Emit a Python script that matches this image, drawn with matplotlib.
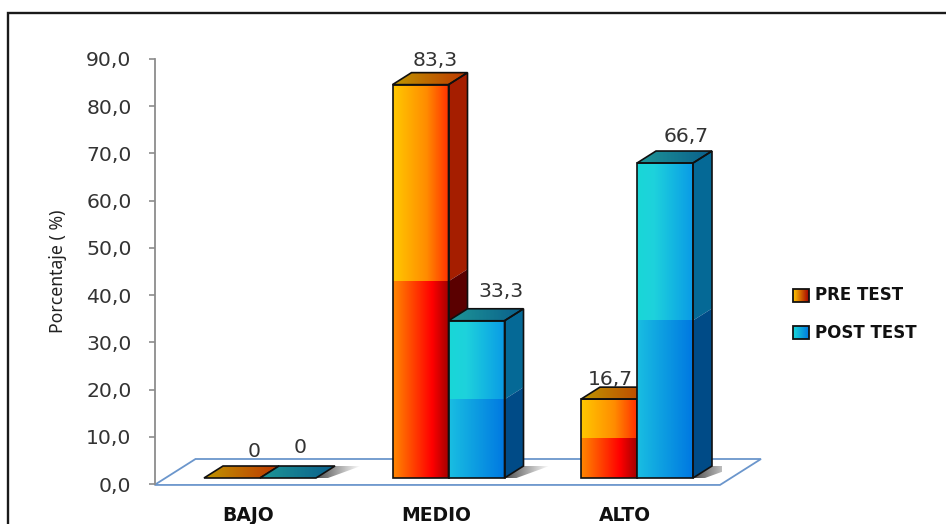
import numpy as np
import matplotlib
matplotlib.use('Agg')
import matplotlib.pyplot as plt
from matplotlib.patches import Polygon, Rectangle

categories = ['BAJO', 'MEDIO', 'ALTO']
pre_test = [0, 83.3, 16.7]
post_test = [0, 33.3, 66.7]
pre_labels = ['0', '83,3', '16,7']
post_labels = ['0', '33,3', '66,7']
y_ticks = [0, 10, 20, 30, 40, 50, 60, 70, 80, 90]
y_tick_labels = ['0,0', '10,0', '20,0', '30,0', '40,0', '50,0', '60,0', '70,0', '80,0', '90,0']
series_names = ['PRE TEST', 'POST TEST']

W, H = 946, 524
PX_X = 188.5  # pixels per category
PX_Y = 425 / 90  # pixels per percent
bar_w = 56 / PX_X
depth_x = 19 / PX_X
depth_y = 12 / PX_Y
base = 6 / PX_Y  # bars stand a little above the zero line

pos = [0.0, 1.0, 2.0]
x_left = (154.5 - 260) / PX_X

# face colours: (stop, r, g, b)
RED = {
    'up': [(0, 255, 200, 0), (0.6, 255, 140, 0), (1, 255, 50, 0)],
    'low': [(0, 255, 135, 0), (0.7, 255, 0, 0), (1, 165, 0, 0)],
    'top': [(0, 190, 150, 0), (1, 190, 55, 0)],
    'side': '#a51e00', 'side_low': '#5a0000',
}
BLUE = {
    'up': [(0, 25, 215, 215), (0.3, 30, 210, 220), (1, 10, 155, 230)],
    'low': [(0, 25, 190, 225), (1, 0, 120, 225)],
    'top': [(0, 30, 150, 150), (1, 10, 95, 140)],
    'side': '#056996', 'side_low': '#004b87',
}


def grad(stops, n=64):
    t = np.linspace(0, 1, n)
    s = np.array(stops, dtype=float)
    rgb = [np.interp(t, s[:, 0], s[:, i]) for i in (1, 2, 3)]
    return (np.dstack(rgb) / 255.0).reshape(1, n, 3)


def shadow(ax, x0, y0):
    # soft shadow falling to the right of the bar foot
    reach = 26 / PX_X
    pts = [(x0, y0), (x0 + depth_x, y0 + depth_y), (x0 + depth_x + reach, y0 + depth_y),
           (x0 + 12 / PX_X, y0)]
    img = np.zeros((1, 64, 4))
    img[0, :, 3] = np.linspace(0.7, 0, 64)
    im = ax.imshow(img, extent=(x0, x0 + depth_x + reach, y0, y0 + depth_y),
                   aspect='auto', zorder=2, interpolation='bilinear')
    im.set_clip_path(Polygon(pts, transform=ax.transData))


def bar3d(ax, x0, value, col, z):
    y0 = base
    y1 = base + value
    mid = base + value / 2
    if value > 0:
        ax.imshow(grad(col['up']), extent=(x0, x0 + bar_w, mid, y1), aspect='auto',
                  zorder=z, interpolation='bilinear')
        ax.imshow(grad(col['low']), extent=(x0, x0 + bar_w, y0, mid), aspect='auto',
                  zorder=z, interpolation='bilinear')
        xr = x0 + bar_w
        ax.add_patch(Polygon([(xr, mid), (xr + depth_x, mid + depth_y), (xr + depth_x, y1 + depth_y), (xr, y1)],
                             fc=col['side'], ec='none', zorder=z, clip_on=False))
        ax.add_patch(Polygon([(xr, y0), (xr + depth_x, y0 + depth_y), (xr + depth_x, mid + depth_y), (xr, mid)],
                             fc=col['side_low'], ec='none', zorder=z, clip_on=False))
        ax.add_patch(Polygon([(xr, y0), (xr + depth_x, y0 + depth_y), (xr + depth_x, y1 + depth_y), (xr, y1)],
                             fc='none', ec='#101010', lw=1.2, zorder=z + 0.2, clip_on=False))
        ax.add_patch(Rectangle((x0, y0), bar_w, value, fc='none', ec='#101010', lw=1.2, zorder=z + 0.2))
    top_pts = [(x0, y1), (x0 + bar_w, y1), (x0 + bar_w + depth_x, y1 + depth_y), (x0 + depth_x, y1 + depth_y)]
    im = ax.imshow(grad(col['top']), extent=(x0, x0 + bar_w + depth_x, y1, y1 + depth_y), aspect='auto',
                   zorder=z + 0.1, interpolation='bilinear')
    im.set_clip_path(Polygon(top_pts, transform=ax.transData))
    ax.add_patch(Polygon(top_pts, fc='none', ec='#101010', lw=1.2, zorder=z + 0.2, clip_on=False))


fig = plt.figure(figsize=(W / 100, H / 100), dpi=100, facecolor='white')

# page layer: black frame and the legend, in pixels
page = fig.add_axes([0, 0, 1, 1], zorder=0)
page.set_xlim(0, W)
page.set_ylim(H, 0)
page.axis('off')
page.plot([8, 8, W], [H, 13, 13], color='#1a1a1a', lw=1.7, solid_joinstyle='miter')
for (y, col, name) in zip([289, 326], [RED, BLUE], series_names):
    stops = [col['up'][0], col['low'][-1]]
    page.imshow(grad(stops), extent=(793, 809, y + 13, y), aspect='auto', zorder=2)
    page.add_patch(Rectangle((793, y), 16, 13, fc='none', ec='#111111', lw=1.3, zorder=3))
    page.text(815, y + 6.5, name, family='DejaVu Sans', weight='bold', fontsize=12,
              color='#111111', va='center', ha='left')
page.set_xlim(0, W)
page.set_ylim(H, 0)

ax = fig.add_axes([154.5 / W, (H - 484) / H, (722 - 154.5) / W, 425 / H], zorder=1)
ax.patch.set_alpha(0)
ax.set_xlim(x_left, x_left + (722 - 154.5) / PX_X)
ax.set_ylim(0, 90)

# floor
fx0, fx1 = x_left, x_left + (720 - 154.5) / PX_X
fd = 41 / PX_X
fh = 25 / PX_Y
ax.add_patch(Polygon([(fx0, -0.2), (fx1, -0.2), (fx1 + fd, fh), (fx0 + fd, fh)], closed=True,
                     fc='none', ec='#6b96cc', lw=1.3, zorder=1, clip_on=False))

for i, p in enumerate(pos):
    shadow(ax, p + bar_w, base)
    bar3d(ax, p - bar_w, pre_test[i], RED, 3)
    bar3d(ax, p, post_test[i], BLUE, 4)

ax.set_xlim(x_left, x_left + (722 - 154.5) / PX_X)
ax.set_ylim(0, 90)

# value labels, offsets in pixels from the back of the bar top
pre_off = [(22, 9), (15, 7), (1, 2)]
post_off = [(12, 13), (25, 12), (21, 9)]
for i, p in enumerate(pos):
    for xc, val, lab, off in [(p - bar_w / 2, pre_test[i], pre_labels[i], pre_off[i]),
                              (p + bar_w / 2, post_test[i], post_labels[i], post_off[i])]:
        ax.annotate(lab, (xc, base + val + depth_y), xytext=(off[0] * 0.72, off[1] * 0.72),
                    textcoords='offset points', ha='center', va='baseline',
                    fontsize=14.7, color='#333333', zorder=8, annotation_clip=False)

for s in ['top', 'right', 'bottom']:
    ax.spines[s].set_visible(False)
ax.spines['left'].set_color('#8c8c8c')
ax.spines['left'].set_linewidth(1.3)
ax.set_yticks(y_ticks)
ax.set_yticklabels(y_tick_labels, fontsize=14.7, color='#333333')
ax.tick_params(axis='y', length=4.5, width=1.2, color='#8c8c8c', pad=12)
ax.set_xticks([p - 12 / PX_X for p in pos])
ax.set_xticklabels(categories, family='DejaVu Sans', weight='bold', fontsize=13.5, color='#111111')
ax.tick_params(axis='x', length=0, pad=16)
ax.set_ylabel('Porcentaje ( %)', family='Noto Sans', fontsize=12.7, color='#222222', labelpad=14)

fig.savefig('out.png', dpi=100, facecolor='white')
